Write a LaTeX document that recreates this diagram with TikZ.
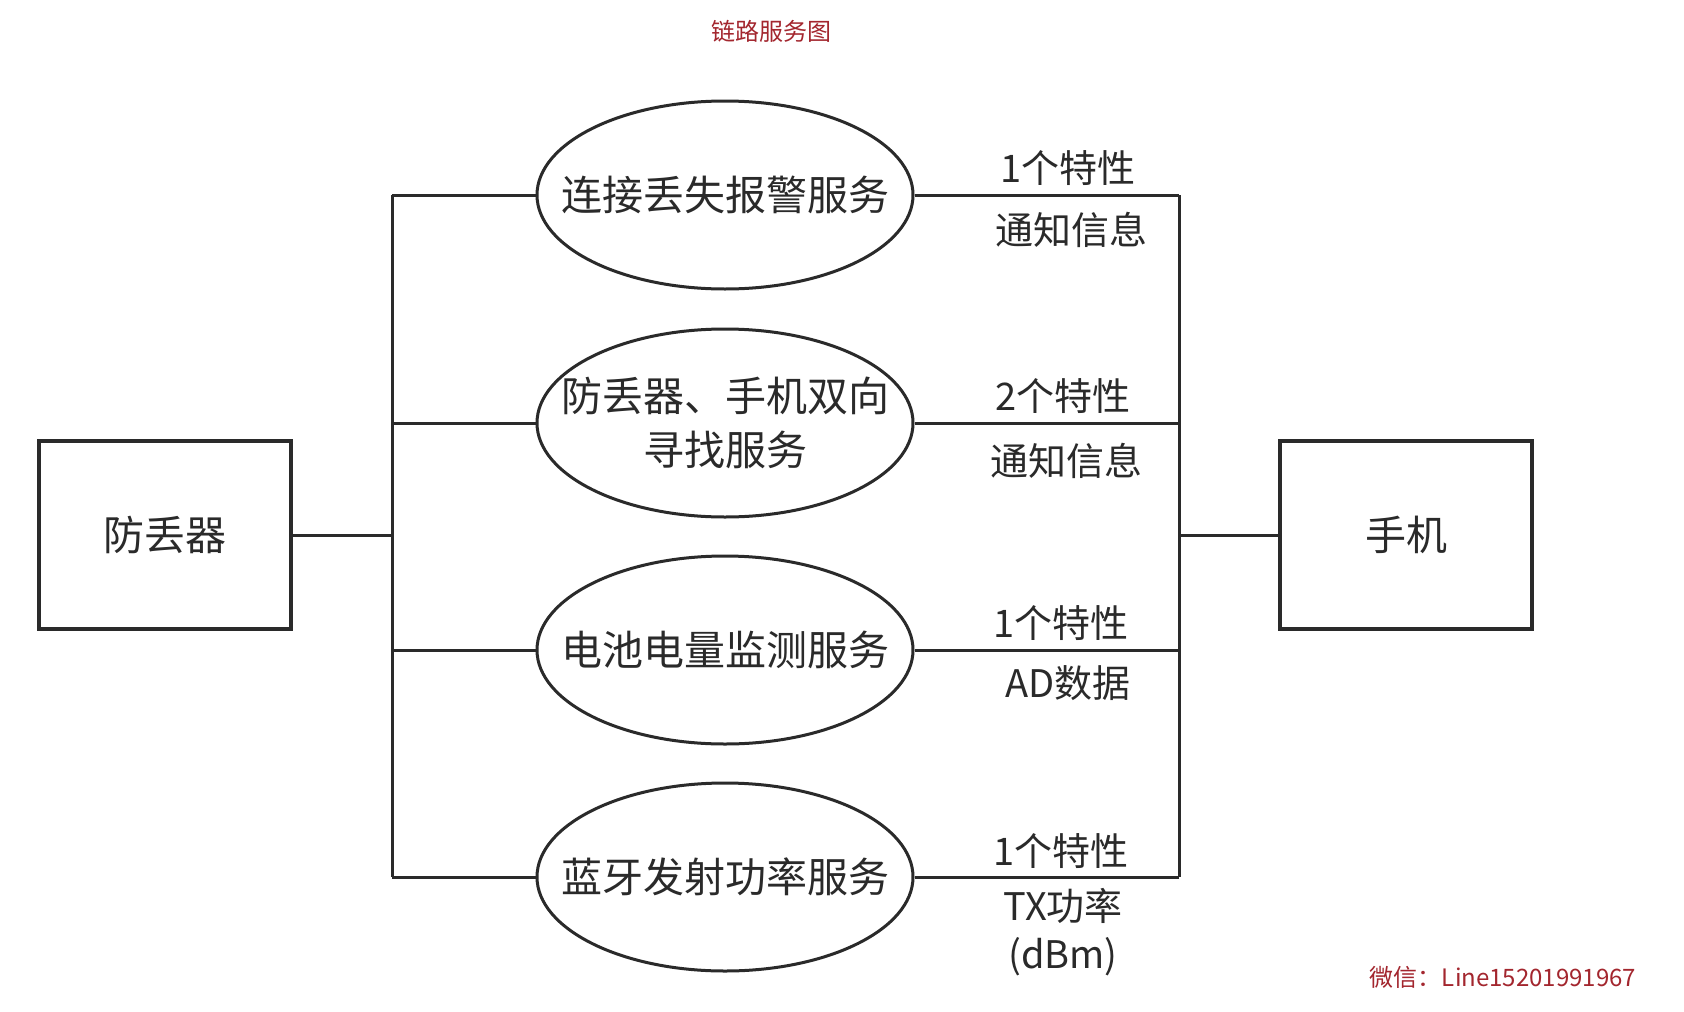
\documentclass[tikz,border=0pt]{standalone}
\usepackage{fontspec}
\setmainfont{Noto Sans CJK SC}
\usetikzlibrary{shapes.geometric}
\definecolor{ink}{HTML}{2A2A2A}
\definecolor{wm}{HTML}{A3262E}
\tikzset{
  line/.style={draw=ink, line width=3pt},
  box/.style={draw=ink, line width=3.4pt, minimum width=252pt, minimum height=188pt, inner sep=0pt, text=ink, font=\fontsize{41}{48}\selectfont},
  svc/.style={ellipse, draw=ink, line width=3pt, minimum width=376pt, minimum height=188pt, inner xsep=-36pt, inner ysep=0pt, text=ink, align=center, font=\fontsize{41}{54}\selectfont},
  lbl/.style={text=ink, inner sep=0pt, font=\fontsize{38}{44}\selectfont},
}
\begin{document}
\begin{tikzpicture}[x=1pt,y=-1pt]
\useasboundingbox[fill=white] (0,0) rectangle (1684,1012);
% title and watermark
\node[text=wm, font=\fontsize{24}{28}\selectfont] (title) at (771,31) {链路服务图};
\node[text=wm, font=\fontsize{24}{28}\selectfont] (wmark) at (1503,977) {微信：Line15201991967};
% boxes
\node[box] (A) at (165,535) {防丢器};
\node[box] (B) at (1406,535) {手机};
% services
\node[svc] (e1) at (725,195) {连接丢失报警服务};
\node[svc] (e2) at (725,423) {防丢器、手机双向\\寻找服务};
\node[svc] (e3) at (725,650) {电池电量监测服务};
\node[svc] (e4) at (725,877) {蓝牙发射功率服务};
% buses
\coordinate (lt) at (392,195);
\coordinate (lb) at (392,877);
\coordinate (rt) at (1179,195);
\coordinate (rb) at (1179,877);
\draw[line] (lt) -- (lb);
\draw[line] (rt) -- (rb);
\draw[line] (A.east) -- (A.east -| lt);
\draw[line] (B.west) -- (B.west -| rt);
\foreach \e in {e1,e2,e3,e4}{
  \draw[line] (lt |- \e.west) -- (\e.west);
  \draw[line] (\e.east) -- (\e.east -| rt);
}
% labels
\node[lbl] (l1a) at (1068,168) {1个特性};
\node[lbl] (l1b) at (1071,230) {通知信息};
\node[lbl] (l2a) at (1063,396) {2个特性};
\node[lbl] (l2b) at (1066,461) {通知信息};
\node[lbl] (l3a) at (1061,623) {1个特性};
\node[lbl] (l3b) at (1068,683) {AD数据};
\node[lbl] (l4a) at (1061,851) {1个特性};
\node[lbl] (l4b) at (1063,906) {TX功率};
\node[lbl] (l4c) at (1063,957) {(dBm)};
\end{tikzpicture}
\end{document}
